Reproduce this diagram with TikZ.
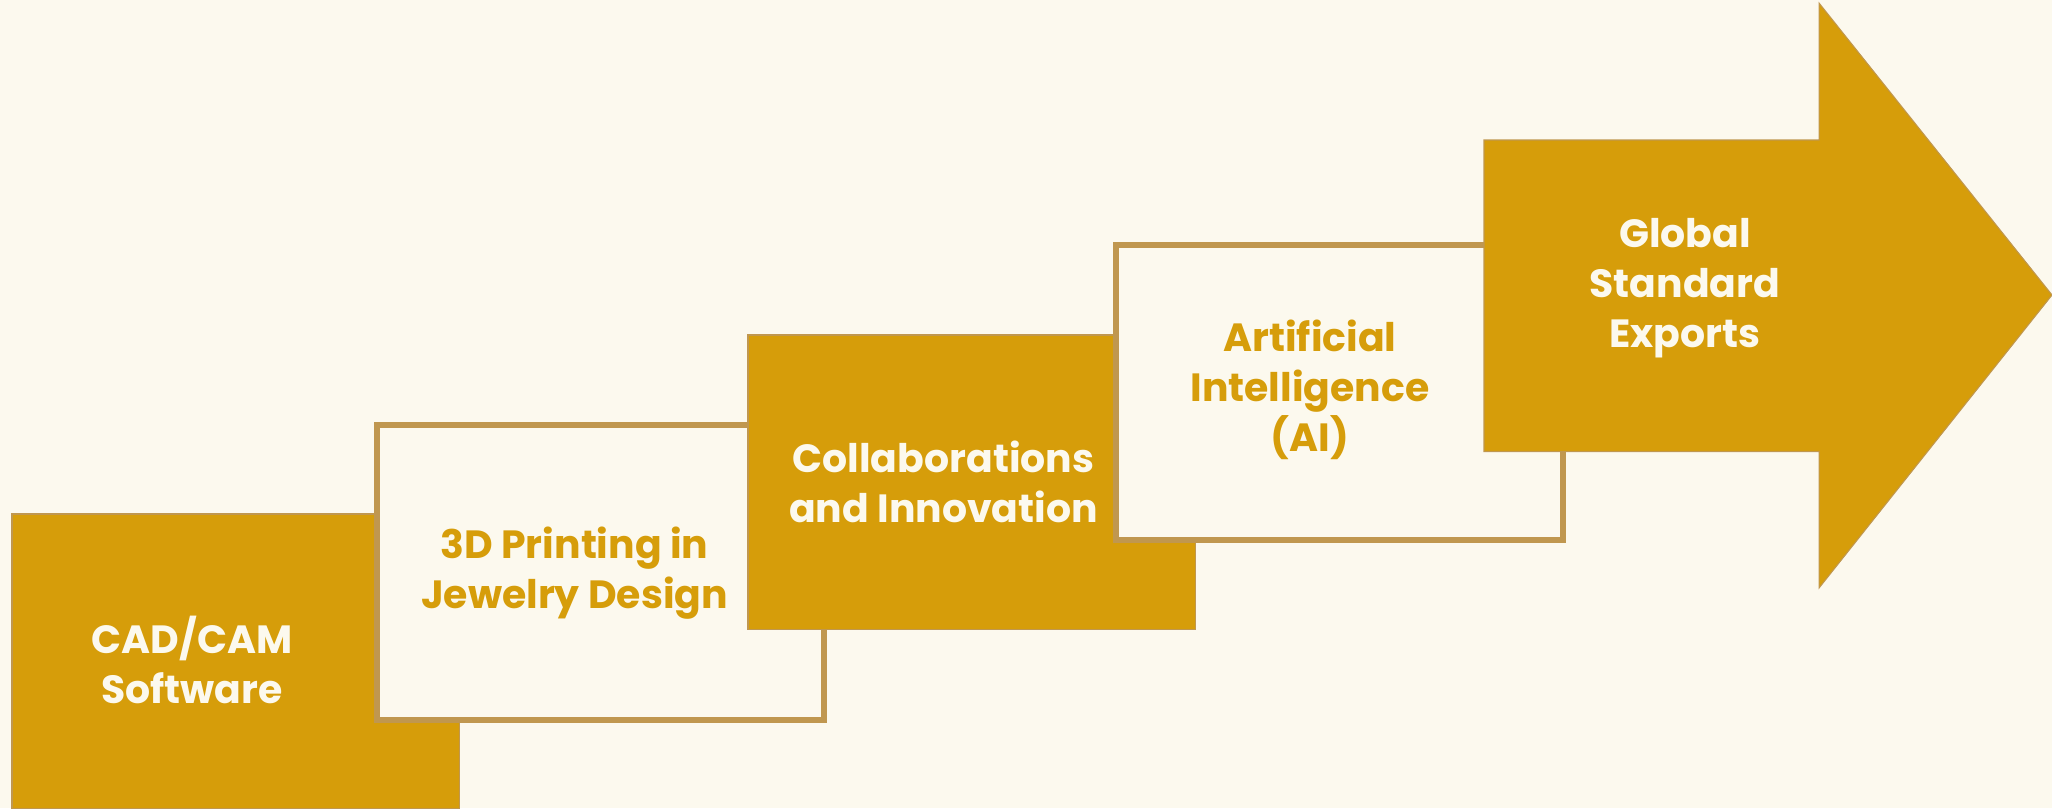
\documentclass[tikz,border=0pt]{standalone}
\usepackage{fontspec}
\setmainfont{Poppins}
\usepackage{xcolor}
\usepackage{tikz}
\tikzset{>=latex}
\usetikzlibrary{calc}
\usetikzlibrary{positioning}
\definecolor{mygold}{HTML}{D69D0A}
\definecolor{mytan}{HTML}{C0974F}
\definecolor{mycream}{HTML}{FCF9EE}
\tikzset{
	solidbox/.style={draw=mytan,line width=0.3pt,fill=mygold,minimum width=4.47cm,minimum height=2.945cm,inner sep=0pt,outer sep=0pt,anchor=north west},
	framebox/.style={draw=mytan,line width=1.7pt,fill=mycream,minimum width=4.47cm,minimum height=2.945cm,inner sep=0pt,outer sep=0pt,anchor=north west},
	steptext/.style={font=\bfseries\fontsize{11.2}{14.2}\selectfont,align=center,inner sep=0pt},
}

\begin{document}
\begin{tikzpicture}[x=0.01cm,y=-0.01cm]
		\fill[mycream] (0,0) rectangle (2052,808);
		\useasboundingbox (0,0) rectangle (2052,808);

		\coordinate (A) at (1484,140);
		\coordinate (B) at (1819,140);
		\coordinate (C) at (1819,3);
		\coordinate (D) at (2052,295);

		\node[solidbox] (s1) at (12,514) {};
		\node[steptext,text=mycream] (t1) at (192,660) {CAD/CAM\\Software};
		\node[framebox] (s2) at (377,425) {};
		\node[steptext,text=mygold] (t2) at (574.5,573) {3D Printing in\\Jewelry Design};
		\node[solidbox] (s3) at (748,335) {};
		\node[steptext,text=mycream] (t3) at (943.5,482) {Collaborations\\and Innovation};
		\node[framebox] (s4) at (1116,245) {};
		\node[steptext,text=mygold] (t4) at (1310,390) {Artificial\\Intelligence\\(AI)};

		% big arrow at the end
		\draw[mytan,line width=0.3pt,fill=mygold] (A) -- (B) -- (C) -- (D) -- (C |- 0,588) -- (B |- 0,451.5) -- (A |- 0,451.5) -- cycle;
		\node[steptext,text=mycream] (t5) at (1685,288) {Global\\Standard\\Exports};
	\end{tikzpicture}
\end{document}
